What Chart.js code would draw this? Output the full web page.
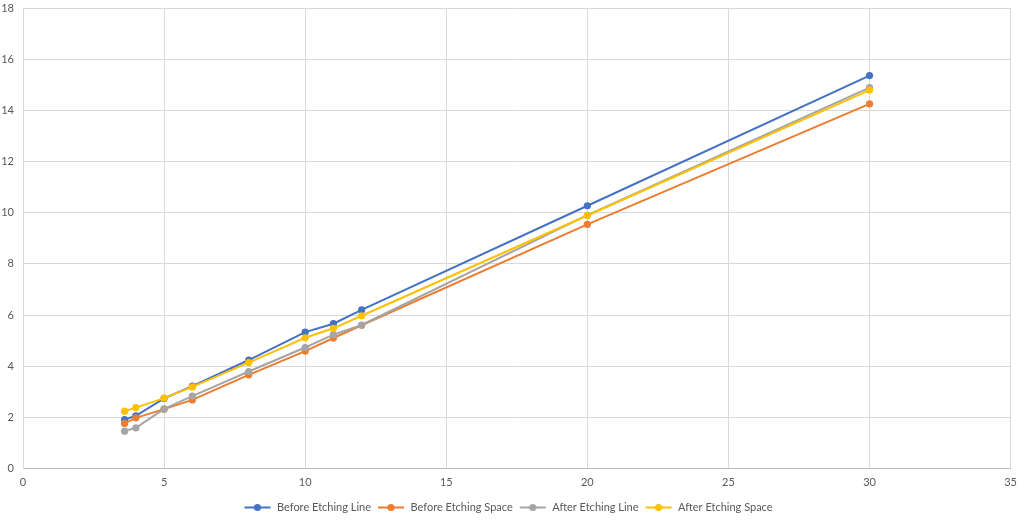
<!DOCTYPE html>
<html>
<head>
<meta charset="utf-8">
<script src="https://cdn.jsdelivr.net/npm/chart.js@4/dist/chart.umd.min.js"></script>
<style>
  html, body { margin: 0; padding: 0; background: #fff; }
  #wrap { width: 1024px; height: 521px; }
</style>
</head>
<body>
<div id="wrap"><canvas id="chart"></canvas></div>
<script>
// x positions (shared by all series)
const widths = [3.6, 4, 5, 6, 8, 10, 11, 12, 20, 30];

const beforeLine  = [1.91, 2.06, 2.74, 3.22, 4.24, 5.33, 5.66, 6.20, 10.27, 15.36];
const beforeSpace = [1.76, 1.98, 2.32, 2.68, 3.66, 4.59, 5.10, 5.60, 9.54, 14.25];
const afterLine   = [1.46, 1.59, 2.33, 2.83, 3.79, 4.73, 5.23, 5.61, 9.90, 14.89];
const afterSpace  = [2.24, 2.38, 2.75, 3.19, 4.14, 5.11, 5.48, 5.97, 9.89, 14.79];

const seriesNames = ['Before Etching Line', 'Before Etching Space', 'After Etching Line', 'After Etching Space'];
const seriesColors = ['#4472C4', '#ED7D31', '#A5A5A5', '#FFC000'];

const FONT = 'Lato, "Liberation Sans", sans-serif';

function toPoints(values) {
  return values.map((v, i) => ({ x: widths[i], y: v }));
}

// small line + dot marker for the legend, like Excel
function legendMarker(color) {
  const c = document.createElement('canvas');
  const dpr = window.devicePixelRatio || 1;
  c.width = 28 * dpr;
  c.height = 9 * dpr;
  const g = c.getContext('2d');
  g.scale(dpr, dpr);
  g.strokeStyle = color;
  g.lineWidth = 2;
  g.beginPath();
  g.moveTo(1, 4.5);
  g.lineTo(27, 4.5);
  g.stroke();
  g.fillStyle = color;
  g.beginPath();
  g.arc(14, 4.5, 3.6, 0, Math.PI * 2);
  g.fill();
  const img = new Image();
  img.width = 28;
  img.height = 9;
  img.src = c.toDataURL();
  return img;
}

const markers = seriesColors.map(legendMarker);

const datasets = [beforeLine, beforeSpace, afterLine, afterSpace].map((vals, i) => ({
  label: seriesNames[i],
  data: toPoints(vals),
  borderColor: seriesColors[i],
  backgroundColor: seriesColors[i],
  borderWidth: 2,
  pointRadius: 3.6,
  pointHoverRadius: 3.6,
  pointBorderWidth: 0,
  showLine: true,
  tension: 0,
  order: 3 - i   // last series drawn on top
}));

function buildChart() {
  const ctx = document.getElementById('chart').getContext('2d');
  new Chart(ctx, {
    type: 'scatter',
    data: { datasets },
    options: {
      responsive: true,
      maintainAspectRatio: false,
      animation: false,
      layout: { padding: { top: 8, right: 8, left: 0, bottom: -2 } },
      scales: {
        x: {
          type: 'linear',
          min: 0,
          max: 35,
          ticks: { stepSize: 5, color: '#595959', font: { family: FONT, size: 11 }, padding: 7 },
          grid: { color: '#d9d9d9', drawTicks: false },
          border: { color: '#bfbfbf' },
          afterFit: s => { s.height = 27.5; }
        },
        y: {
          min: 0,
          max: 18,
          ticks: { stepSize: 2, color: '#595959', font: { family: FONT, size: 11 }, padding: 9 },
          grid: { color: '#d9d9d9', drawTicks: false },
          border: { color: '#d9d9d9' },
          afterFit: s => { s.width = 23; s.paddingTop = 0; s.paddingBottom = 0; }
        }
      },
      plugins: {
        tooltip: { enabled: false },
        legend: {
          position: 'bottom',
          labels: {
            usePointStyle: true,
            pointStyleWidth: 28,
            boxHeight: 9,
            padding: 6,
            color: '#595959',
            font: { family: FONT, size: 11 },
            generateLabels: chart => {
              const items = Chart.defaults.plugins.legend.labels.generateLabels(chart);
              items.forEach(it => { it.pointStyle = markers[it.datasetIndex]; });
              return items.sort((a, b) => a.datasetIndex - b.datasetIndex);
            }
          }
        }
      }
    }
  });
}

Promise.all(markers.map(m => m.complete ? Promise.resolve() : new Promise(r => { m.onload = r; }))).then(buildChart);
</script>
</body>
</html>
